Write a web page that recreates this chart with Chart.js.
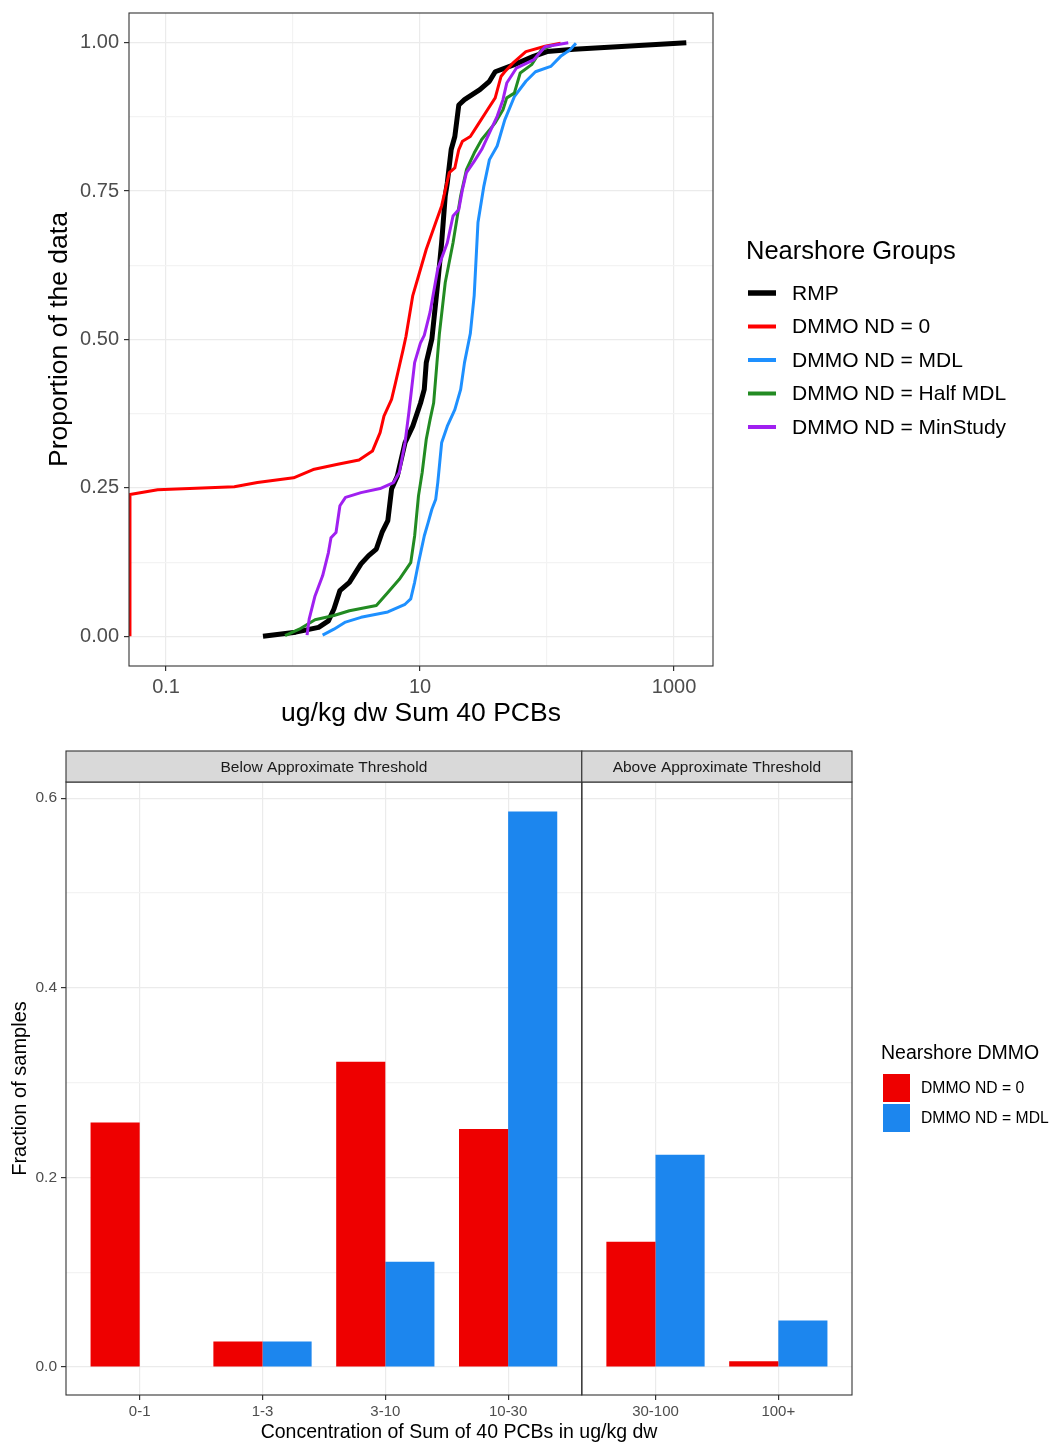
<!DOCTYPE html>
<html>
<head>
<meta charset="utf-8">
<title>Nearshore PCB distributions</title>
<script src="https://cdn.jsdelivr.net/npm/chart.js@4.4.1/dist/chart.umd.min.js"></script>
<style>
  body { margin: 0; background: #fff; }
  #wrap { position: relative; width: 1052px; height: 1444px; background: #fff; }
  #ecdf { position: absolute; left: 0; top: 0; }
  #bars { position: absolute; left: 0; top: 740px; }
</style>
</head>
<body>
<div id="wrap">
  <canvas id="ecdf" width="1052" height="735"></canvas>
  <canvas id="bars" width="1052" height="704"></canvas>
</div>
<script>
// ---- Top panel: cumulative curves (ug/kg dw vs proportion) ----
const groupNames = ['RMP', 'DMMO ND = 0', 'DMMO ND = MDL', 'DMMO ND = Half MDL', 'DMMO ND = MinStudy'];
const groupColors = ['#000000', '#ff0000', '#1e90ff', '#228b22', '#a020f0'];

const rmpX = [0.58, 1.05, 1.59, 1.90, 2.10, 2.34, 2.78, 3.43, 3.94, 4.53, 5.02, 5.58, 5.97, 6.63, 7.62, 8.77, 10.1, 10.8, 11.2, 12.4, 13.8, 14.8, 15.8, 16.4, 17.6, 18.8, 20.2, 22.4, 29.6, 35.2, 39.1, 55.3, 78.3, 100, 163, 1250];
const rmpY = [0, 0.007, 0.015, 0.026, 0.046, 0.077, 0.091, 0.122, 0.136, 0.147, 0.175, 0.195, 0.248, 0.270, 0.326, 0.354, 0.393, 0.416, 0.461, 0.501, 0.596, 0.663, 0.742, 0.764, 0.820, 0.842, 0.895, 0.904, 0.921, 0.935, 0.951, 0.963, 0.977, 0.985, 0.989, 1.0];

// ND = 0 values sit at the left edge of the log axis
const nd0X = [0.052, 0.052, 0.086, 0.345, 0.524, 1.01, 1.44, 2.25, 3.31, 4.22, 4.85, 5.20, 5.97, 6.41, 6.87, 7.36, 7.75, 8.77, 9.73, 11.2, 13.3, 14.8, 17.0, 18.8, 20.2, 21.6, 24.9, 28.6, 34.0, 39.1, 43.4, 46.5, 53.5, 68.2, 96.6, 128];
const nd0Y = [0, 0.239, 0.247, 0.252, 0.259, 0.267, 0.281, 0.290, 0.297, 0.312, 0.343, 0.371, 0.399, 0.427, 0.455, 0.483, 0.505, 0.574, 0.607, 0.652, 0.697, 0.725, 0.781, 0.789, 0.820, 0.834, 0.842, 0.862, 0.887, 0.907, 0.943, 0.951, 0.965, 0.985, 0.994, 0.999];

const mdlX = [1.71, 2.10, 2.59, 3.43, 5.58, 7.62, 8.45, 9.07, 9.73, 10.8, 11.6, 12.4, 13.3, 13.8, 14.3, 14.8, 16.4, 18.8, 20.9, 22.4, 24.9, 26.7, 28.6, 31.8, 35.2, 40.5, 46.5, 55.3, 68.2, 81.1, 107, 128, 152, 169];
const mdlY = [0.002, 0.012, 0.024, 0.032, 0.041, 0.054, 0.063, 0.091, 0.124, 0.169, 0.192, 0.214, 0.231, 0.259, 0.293, 0.326, 0.354, 0.382, 0.416, 0.461, 0.510, 0.574, 0.697, 0.758, 0.803, 0.826, 0.870, 0.909, 0.935, 0.951, 0.960, 0.977, 0.988, 0.999];

const halfX = [0.865, 1.12, 1.49, 2.10, 2.78, 4.53, 5.58, 6.87, 8.45, 9.07, 9.73, 10.4, 11.2, 12.0, 12.8, 13.6, 14.2, 15.8, 18.2, 20.9, 23.2, 26.7, 30.6, 39.1, 45.0, 48.2, 55.3, 61.5, 75.7, 90.2, 111];
const halfY = [0.001, 0.012, 0.028, 0.035, 0.043, 0.052, 0.074, 0.096, 0.124, 0.169, 0.237, 0.276, 0.332, 0.365, 0.393, 0.461, 0.509, 0.596, 0.663, 0.742, 0.786, 0.814, 0.837, 0.865, 0.887, 0.907, 0.915, 0.949, 0.963, 0.988, 0.996];

const minX = [1.29, 1.34, 1.49, 1.71, 1.90, 1.99, 2.18, 2.34, 2.59, 3.43, 4.85, 6.19, 6.87, 7.62, 8.17, 9.07, 10.07, 10.8, 12.0, 13.8, 16.4, 18.2, 20.2, 21.6, 23.2, 26.7, 30.6, 35.2, 40.5, 45.0, 48.2, 57.3, 78.3, 96.6, 147];
const minY = [0.002, 0.029, 0.068, 0.102, 0.141, 0.166, 0.175, 0.220, 0.234, 0.242, 0.249, 0.259, 0.276, 0.326, 0.377, 0.461, 0.494, 0.507, 0.546, 0.619, 0.663, 0.708, 0.719, 0.753, 0.781, 0.800, 0.820, 0.848, 0.876, 0.904, 0.932, 0.957, 0.971, 0.993, 1.0];

const groupX = [rmpX, nd0X, mdlX, halfX, minX];
const groupY = [rmpY, nd0Y, mdlY, halfY, minY];

const concTicks = [0.1, 1, 10, 100, 1000];
const concLabels = ['0.1', '', '10', '', '1000'];
const propTicks = [0, 0.125, 0.25, 0.375, 0.5, 0.625, 0.75, 0.875, 1];
const propLabels = ['0.00', '', '0.25', '', '0.50', '', '0.75', '', '1.00'];

// ---- Bottom panel: fraction of samples per concentration bin ----
const facetNames = ['Below Approximate Threshold', 'Above Approximate Threshold'];
const belowBins = ['0-1', '1-3', '3-10', '10-30'];
const aboveBins = ['30-100', '100+'];
const fillNames = ['DMMO ND = 0', 'DMMO ND = MDL'];
const fillColors = ['#ee0000', '#1c86ee'];
const nd0Frac = [0.258, 0.027, 0.322, 0.251, 0.132, 0.006];
const mdlFrac = [0, 0.027, 0.111, 0.586, 0.224, 0.049];
const fracTicks = [0, 0.1, 0.2, 0.3, 0.4, 0.5, 0.6];
const fracLabels = ['0.0', '', '0.2', '', '0.4', '', '0.6'];

Chart.defaults.font.family = '"Liberation Sans", Arial, sans-serif';
const FONT = '"Liberation Sans", Arial, sans-serif';
const gridCol = '#ebebeb';
const minorCol = '#f3f3f3';
const textGrey = '#4d4d4d';

// strokes a border around each facet panel (ggplot theme_bw)
const panelBorder = {
    id: 'panelBorder',
    afterDatasetsDraw(chart, args, opts) {
        const { ctx, chartArea: a } = chart;
        const cuts = opts.cuts ? opts.cuts(chart) : [];
        const edges = [a.left, ...cuts, a.right];
        ctx.save();
        ctx.strokeStyle = '#333333';
        ctx.lineWidth = 1.1;
        for (let i = 0; i < edges.length - 1; i++) {
            ctx.strokeRect(edges[i], a.top, edges[i + 1] - edges[i], a.bottom - a.top);
        }
        // facet strips above the panels
        if (opts.strips) {
            ctx.font = '15.5px ' + FONT;
            ctx.textAlign = 'center';
            ctx.textBaseline = 'middle';
            for (let i = 0; i < edges.length - 1; i++) {
                const h = 31;
                ctx.fillStyle = '#d9d9d9';
                ctx.fillRect(edges[i], a.top - h, edges[i + 1] - edges[i], h);
                ctx.strokeRect(edges[i], a.top - h, edges[i + 1] - edges[i], h);
                ctx.fillStyle = '#1a1a1a';
                ctx.fillText(opts.strips[i], (edges[i] + edges[i + 1]) / 2, a.top - h / 2 + 1);
            }
        }
        ctx.restore();
    }
};

// legend drawn to the right of the panel, ggplot style
const sideLegend = {
    id: 'sideLegend',
    afterDraw(chart, args, o) {
        const ctx = chart.ctx;
        ctx.save();
        ctx.textBaseline = 'middle';
        ctx.textAlign = 'left';
        ctx.fillStyle = '#000';
        ctx.font = o.titleSize + 'px ' + FONT;
        ctx.fillText(o.title, o.x, o.titleY);
        ctx.font = o.labelSize + 'px ' + FONT;
        o.labels.forEach((lab, i) => {
            const y = o.firstY + i * o.step;
            if (o.kind === 'line') {
                ctx.strokeStyle = o.colors[i];
                ctx.lineWidth = o.widths[i];
                ctx.beginPath();
                ctx.moveTo(o.x + 2, y);
                ctx.lineTo(o.x + 30, y);
                ctx.stroke();
            } else {
                ctx.fillStyle = o.colors[i];
                ctx.fillRect(o.x + 2, y - o.step / 2 + 1, 27, o.step - 2);
            }
            ctx.fillStyle = '#000';
            ctx.fillText(lab, o.textX, y + 1);
        });
        ctx.restore();
    }
};

// ---- ECDF chart ----
const lineWidths = [5, 3, 3, 3, 3];
new Chart(document.getElementById('ecdf'), {
    type: 'scatter',
    data: {
        datasets: groupNames.map((name, i) => ({
            label: name,
            data: groupX[i].map((x, j) => ({ x: x, y: groupY[i][j] })),
            showLine: true,
            borderColor: groupColors[i],
            backgroundColor: groupColors[i],
            borderWidth: lineWidths[i],
            borderJoinStyle: 'round',
            pointRadius: 0,
            tension: 0,
            order: groupNames.length - i
        }))
    },
    options: {
        responsive: false,
        animation: false,
        layout: { padding: { left: 40, top: 13, right: 339, bottom: 0 } },
        plugins: {
            legend: { display: false },
            tooltip: { enabled: false },
            panelBorder: {},
            sideLegend: {
                kind: 'line', title: 'Nearshore Groups', titleSize: 25.5, labelSize: 21,
                x: 746, titleY: 252, firstY: 293, step: 33.5, textX: 792,
                labels: groupNames, colors: groupColors, widths: [5.5, 4, 4, 4, 4]
            }
        },
        scales: {
            x: {
                type: 'logarithmic',
                min: 0.0511,
                max: 2028,
                bounds: 'data',
                afterBuildTicks: s => { s.ticks = concTicks.map(v => ({ value: v })); },
                afterFit: s => { s.height = 69; s.paddingLeft = 0; s.paddingRight = 0; },
                border: { display: false },
                grid: {
                    color: c => (concLabels[c.index] ? gridCol : minorCol),
                    tickColor: c => (concLabels[c.index] ? '#333333' : 'rgba(0,0,0,0)'),
                    lineWidth: 1.2,
                    tickLength: 5
                },
                ticks: {
                    autoSkip: false, maxRotation: 0, padding: 4,
                    color: textGrey, font: { size: 20 },
                    callback: (v, i) => concLabels[i]
                },
                title: {
                    display: true, text: 'ug/kg dw Sum 40 PCBs', color: '#000',
                    font: { size: 26.5 }, padding: { top: 0, bottom: 5 }
                }
            },
            y: {
                min: -0.05,
                max: 1.05,
                afterBuildTicks: s => { s.ticks = propTicks.map(v => ({ value: v })); },
                afterFit: s => { s.width = 89; s.paddingTop = 0; s.paddingBottom = 0; },
                border: { display: false },
                grid: {
                    color: c => (propLabels[c.index] ? gridCol : minorCol),
                    tickColor: c => (propLabels[c.index] ? '#333333' : 'rgba(0,0,0,0)'),
                    lineWidth: 1.2,
                    tickLength: 5
                },
                ticks: {
                    autoSkip: false, padding: 5, color: textGrey, font: { size: 20 },
                    callback: (v, i) => propLabels[i]
                },
                title: {
                    display: true, text: 'Proportion of the data', color: '#000',
                    font: { size: 26.5 }, padding: { top: 4, bottom: 0 }
                }
            }
        }
    },
    plugins: [panelBorder, sideLegend]
});

// ---- Faceted bar chart: both facets share one linear x scale ----
const facetGap = 1.2;
const binNames = belowBins.concat(aboveBins);
const binPos = belowBins.map((b, i) => i)
    .concat(aboveBins.map((b, i) => belowBins.length - 1 + facetGap + i));
const facetCut = belowBins.length - 1 + facetGap / 2;

new Chart(document.getElementById('bars'), {
    type: 'bar',
    data: {
        datasets: [nd0Frac, mdlFrac].map((vals, k) => ({
            label: fillNames[k],
            data: binPos.map((p, i) => ({ x: p, y: vals[i] })),
            backgroundColor: fillColors[k],
            borderWidth: 0,
            categoryPercentage: 0.8,
            barPercentage: 1
        }))
    },
    options: {
        responsive: false,
        animation: false,
        layout: { padding: { left: 6, top: 42, right: 200, bottom: 0 } },
        plugins: {
            legend: { display: false },
            tooltip: { enabled: false },
            panelBorder: {
                cuts: ch => [ch.scales.x.getPixelForValue(facetCut)],
                strips: facetNames
            },
            sideLegend: {
                kind: 'box', title: 'Nearshore DMMO', titleSize: 19.5, labelSize: 15.7,
                x: 881, titleY: 314, firstY: 348, step: 30, textX: 921,
                labels: fillNames, colors: fillColors
            }
        },
        scales: {
            x: {
                type: 'linear',
                min: -facetGap / 2,
                max: binPos[binPos.length - 1] + facetGap / 2,
                offset: false,
                afterBuildTicks: s => { s.ticks = binPos.map(v => ({ value: v })); },
                afterFit: s => { s.height = 49; s.paddingLeft = 0; s.paddingRight = 0; },
                border: { display: false },
                grid: { offset: false, color: gridCol, lineWidth: 1.2, tickColor: '#333333', tickLength: 5 },
                ticks: {
                    autoSkip: false, maxRotation: 0, padding: 3, color: textGrey, font: { size: 15 },
                    callback: (v, i) => binNames[i]
                },
                title: {
                    display: true, text: 'Concentration of Sum of 40 PCBs in ug/kg dw', color: '#000',
                    font: { size: 19.5 }, padding: { top: 0, bottom: 0 }
                }
            },
            y: {
                min: -0.0295,
                max: 0.617,
                afterBuildTicks: s => { s.ticks = fracTicks.map(v => ({ value: v })); },
                afterFit: s => { s.width = 60; s.paddingTop = 0; s.paddingBottom = 0; },
                border: { display: false },
                grid: {
                    color: c => (fracLabels[c.index] ? gridCol : minorCol),
                    tickColor: c => (fracLabels[c.index] ? '#333333' : 'rgba(0,0,0,0)'),
                    lineWidth: 1.2,
                    tickLength: 5
                },
                ticks: {
                    autoSkip: false, padding: 4, color: textGrey, font: { size: 15.5 },
                    callback: (v, i) => fracLabels[i]
                },
                title: {
                    display: true, text: 'Fraction of samples', color: '#000',
                    font: { size: 20 }, padding: { top: 2, bottom: 0 }
                }
            }
        }
    },
    plugins: [panelBorder, sideLegend]
});
</script>
</body>
</html>
